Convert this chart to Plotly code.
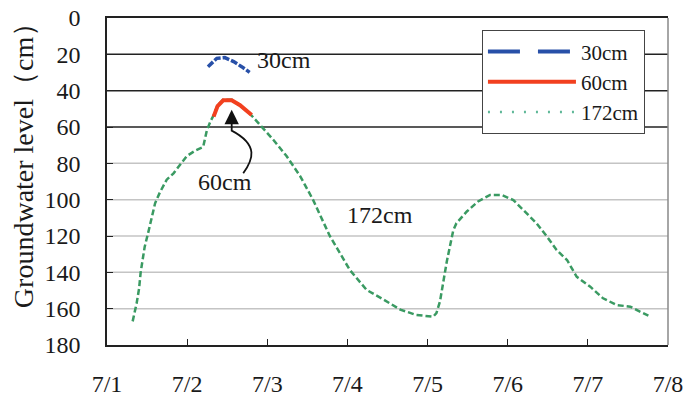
import plotly.graph_objects as go

# x values are days of July (1 = 7/1)
d172 = [1.32, 1.37, 1.40, 1.42, 1.445, 1.47, 1.515, 1.56, 1.60, 1.66, 1.745, 1.83, 1.91, 1.995,
        2.10, 2.20, 2.22, 2.245, 2.29, 2.33, 2.38, 2.45, 2.556, 2.66, 2.78, 2.91, 3.075, 3.24,
        3.41, 3.57, 3.78, 4.03, 4.24, 4.45, 4.66, 4.86, 5.07, 5.11, 5.155, 5.24, 5.28, 5.32,
        5.36, 5.49, 5.63, 5.78, 5.925, 6.07, 6.195, 6.36, 6.49, 6.61, 6.74, 6.86, 7.03, 7.19,
        7.36, 7.53, 7.65, 7.755]
v172 = [167, 157, 149, 140, 133, 126, 118, 109, 102, 96, 89, 85.5, 81, 76,
        73, 71, 67, 62, 57, 53.5, 48, 45, 45, 48, 52.5, 59, 67, 76,
        87, 100, 120, 138.7, 149.7, 155, 160.5, 163.5, 164.4, 162.5, 156, 134, 126, 117,
        113, 106.5, 101, 97.4, 97.4, 100.2, 105.7, 113, 120.3, 127.7, 133.2, 142.4, 147.9, 154.3,
        158, 158.9, 161.6, 163.8]

d60 = [2.33, 2.38, 2.45, 2.556, 2.66, 2.78, 2.805]
v60 = [54.3, 48.5, 45.3, 45.3, 48, 52.5, 53.4]

d30 = [2.26, 2.37, 2.47, 2.58, 2.68, 2.78]
v30 = [26.8, 22.2, 21.8, 24, 26.8, 29.9]

tick_vals = [1, 2, 3, 4, 5, 6, 7, 8]
tick_text = ["7/1", "7/2", "7/3", "7/4", "7/5", "7/6", "7/7", "7/8"]
y_ticks = [0, 20, 40, 60, 80, 100, 120, 140, 160, 180]
dark_grid = [20, 40, 60]
light_grid = [80, 100, 120, 140, 160]

FONT = "Liberation Serif"
TXT = "#1a1a1a"
GREEN = "#3a9a62"
RED = "#f2401f"
BLUE = "#2850a8"

fig = go.Figure()
# plotted series (legend entries drawn by the legend-only traces below)
fig.add_trace(go.Scatter(x=d172, y=v172, mode="lines", name="172cm", showlegend=False,
                         line=dict(color=GREEN, width=2.5, dash="6px,3px")))
fig.add_trace(go.Scatter(x=d60, y=v60, mode="lines", name="60cm", showlegend=False,
                         line=dict(color=RED, width=4)))
fig.add_trace(go.Scatter(x=d30, y=v30, mode="lines", name="30cm", showlegend=False,
                         line=dict(color=BLUE, width=3.5, dash="7px,2px")))
# legend entries
fig.add_trace(go.Scatter(x=[None], y=[None], mode="lines", name="172cm",
                         line=dict(color="#5fb898", width=2.5, dash="2px,10px")))
fig.add_trace(go.Scatter(x=[None], y=[None], mode="lines", name="60cm",
                         line=dict(color=RED, width=4)))
fig.add_trace(go.Scatter(x=[None], y=[None], mode="lines", name="30cm",
                         line=dict(color=BLUE, width=4, dash="32px,18px")))

shapes = []
for g in light_grid:
    shapes.append(dict(type="line", xref="paper", x0=0, x1=1, yref="y", y0=g, y1=g,
                       line=dict(color="#c4c4c4", width=1.5), layer="below"))
for g in dark_grid:
    shapes.append(dict(type="line", xref="paper", x0=0, x1=1, yref="y", y0=g, y1=g,
                       line=dict(color="#222222", width=1.5), layer="below"))
# right border (gray)
shapes.append(dict(type="line", xref="paper", x0=1, x1=1, yref="paper", y0=0, y1=1,
                   line=dict(color="#888888", width=1.5)))
# curved pointer for the 60cm label
shapes.append(dict(type="path", xref="x", yref="y",
                   path="M 2.70,85.5 C 2.82,78 2.90,70 2.556,62 L 2.556,56",
                   line=dict(color="#111111", width=1.8)))

annotations = [
    dict(x=2.847, y=23, text="30cm", showarrow=False, xanchor="left",
         font=dict(family=FONT, size=24, color=TXT)),
    dict(x=2.47, y=90.3, text="60cm", showarrow=False,
         font=dict(family=FONT, size=24, color=TXT)),
    dict(x=4.41, y=108.5, text="172cm", showarrow=False,
         font=dict(family=FONT, size=24, color=TXT)),
    dict(x=2.556, y=50.5, ax=2.556, ay=58, axref="x", ayref="y", xref="x", yref="y",
         text="", showarrow=True, arrowhead=2, arrowsize=1.6, arrowwidth=1.8, arrowcolor="#111"),
    dict(x=-0.18, y=0.57, xref="paper", yref="paper", text="Groundwater level（cm）",
         textangle=-90, showarrow=False, font=dict(family=FONT, size=28, color=TXT)),
]

fig.update_layout(
    width=690, height=399,
    margin=dict(l=107, r=22, t=18, b=54, autoexpand=False),
    paper_bgcolor="white", plot_bgcolor="white",
    font=dict(family=FONT, size=24, color=TXT),
    showlegend=True,
    legend=dict(x=0.668, y=0.963, xanchor="left", yanchor="top",
                traceorder="reversed", bgcolor="white", bordercolor="#444", borderwidth=1.2,
                font=dict(family=FONT, size=21, color=TXT), itemwidth=88,
                tracegroupgap=0),
    shapes=shapes,
    annotations=annotations,
    xaxis=dict(range=[1, 8], tickvals=tick_vals, ticktext=tick_text, showgrid=False,
               showline=True, linecolor="#222", linewidth=1.5, mirror=True, automargin=False,
               ticks="inside", ticklen=6, tickcolor="#222", ticklabelstandoff=16,
               zeroline=False, tickfont=dict(family=FONT, size=24, color=TXT)),
    yaxis=dict(range=[180, 0], tickvals=y_ticks, showgrid=False, showline=True, automargin=False,
               linecolor="#222", linewidth=1.5, ticks="inside", ticklen=6, tickcolor="#222",
               ticklabelstandoff=20, zeroline=False, tickfont=dict(family=FONT, size=24, color=TXT)),
)

fig.write_html("out.html")
